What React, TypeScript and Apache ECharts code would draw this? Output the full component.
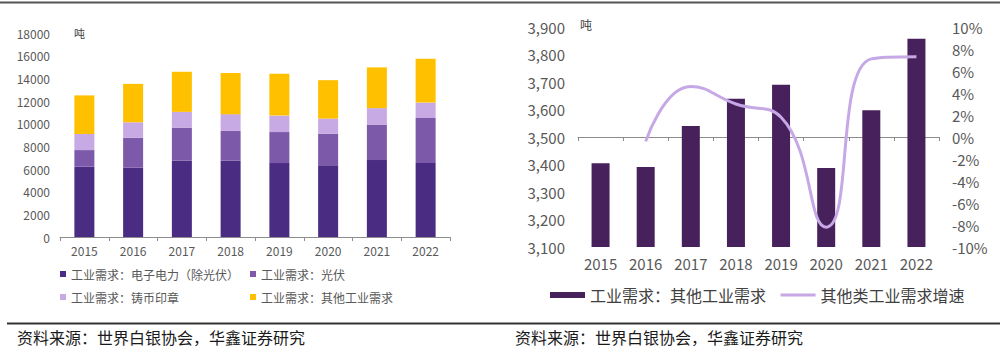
import React, { useEffect, useRef } from "react";
import * as echarts from "echarts";

const years = ["2015", "2016", "2017", "2018", "2019", "2020", "2021", "2022"];
// Left chart: stacked industrial demand (tonnes)
const electronics = [6200, 6110, 6730, 6730, 6520, 6320, 6790, 6520];
const photovoltaic = [1470, 2650, 2920, 2630, 2740, 2800, 3130, 3980];
const coins = [1420, 1360, 1390, 1480, 1450, 1330, 1450, 1360];
const otherIndustrial = [3405, 3391, 3540, 3639, 3690, 3387, 3597, 3857];
// Right chart: growth of other industrial demand (%)
const otherGrowth = [null, -0.4, 4.6, 3.0, 1.8, -8.2, 7.1, 7.3];

const leftNames = [
  "工业需求：电子电力（除光伏）",
  "工业需求：光伏",
  "工业需求：铸币印章",
  "工业需求：其他工业需求",
];
const rightBarName = "工业需求：其他工业需求 ";
const rightLineName = "其他类工业需求增速";
const sourceText = "资料来源：世界白银协会，华鑫证券研究";

const FONT = "'Noto Sans CJK SC', 'Noto Sans', sans-serif";

export default function App() {
  const ref = useRef<HTMLDivElement>(null);
  useEffect(() => {
    if (!ref.current) return;
    const chart = echarts.init(ref.current, undefined, { renderer: "svg" });
    const leftColors = ["#4b2c83", "#7d5aa9", "#c7a9e3", "#ffc000"];
    const leftData = [electronics, photovoltaic, coins, otherIndustrial];
    const legendPos = [
      { left: 60, top: 268 },
      { left: 250, top: 268 },
      { left: 60, top: 291 },
      { left: 250, top: 291 },
    ];
    const option: any = {
      animation: false,
      textStyle: { fontFamily: FONT },
      grid: [
        { left: 60, right: 550, top: 33, bottom: 113 },
        { left: 578, right: 61, top: 27, bottom: 103 },
      ],
      xAxis: [
        {
          type: "category",
          gridIndex: 0,
          data: years,
          axisLine: { lineStyle: { color: "#8c8c8c" } },
          axisTick: { show: true, length: 4, lineStyle: { color: "#8c8c8c" } },
          axisLabel: { color: "#595959", fontSize: 12, margin: 7, fontFamily: FONT },
        },
        {
          type: "category",
          gridIndex: 1,
          data: years,
          axisLine: { lineStyle: { color: "#8c8c8c" } },
          axisTick: { show: true, length: 4, lineStyle: { color: "#8c8c8c" } },
          axisLabel: { color: "#595959", fontSize: 15, margin: 9, fontFamily: FONT },
        },
      ],
      yAxis: [
        {
          type: "value",
          gridIndex: 0,
          min: 0,
          max: 18000,
          interval: 2000,
          splitLine: { show: false },
          axisLine: { show: false },
          axisTick: { show: false },
          axisLabel: {
            color: "#595959",
            fontSize: 12,
            margin: 10,
            fontFamily: FONT,
            formatter: (v: number) => String(v),
          },
        },
        {
          type: "value",
          gridIndex: 1,
          min: 3100,
          max: 3900,
          interval: 100,
          splitLine: { show: false },
          axisLine: { show: false },
          axisTick: { show: false },
          axisLabel: {
            color: "#595959",
            fontSize: 15,
            margin: 13,
            fontFamily: FONT,
            formatter: (v: number) => v.toLocaleString("en-US"),
          },
        },
        {
          type: "value",
          gridIndex: 1,
          position: "right",
          min: -10,
          max: 10,
          interval: 2,
          splitLine: { show: false },
          axisLine: { show: false },
          axisTick: { show: false },
          axisLabel: {
            color: "#595959",
            fontSize: 15,
            margin: 13,
            fontFamily: FONT,
            formatter: (v: number) => `${v}%`,
          },
        },
      ],
      legend: [
        ...leftNames.map((n, i) => ({
          data: [n],
          left: legendPos[i].left,
          top: legendPos[i].top,
          padding: 0,
          icon: "rect",
          itemWidth: 6,
          itemHeight: 6,
          itemGap: 5,
          textStyle: { color: "#595959", fontSize: 12, fontFamily: FONT },
        })),
        {
          data: [
            { name: rightBarName, icon: "rect" },
            { name: rightLineName, icon: "path://M0,0L35,0L35,3L0,3Z" },
          ],
          left: 550,
          top: 287,
          padding: 0,
          itemWidth: 35,
          itemHeight: 6,
          itemGap: 11,
          textStyle: { color: "#404040", fontSize: 16, fontFamily: FONT },
        },
      ],
      series: [
        ...leftNames.map((n, i) => ({
          name: n,
          type: "bar",
          stack: "left",
          xAxisIndex: 0,
          yAxisIndex: 0,
          barWidth: 20,
          itemStyle: { color: leftColors[i] },
          data: leftData[i],
        })),
        {
          name: rightBarName,
          type: "bar",
          xAxisIndex: 1,
          yAxisIndex: 1,
          barWidth: 18,
          itemStyle: { color: "#47215b" },
          data: otherIndustrial,
        },
        {
          name: rightLineName,
          type: "line",
          xAxisIndex: 1,
          yAxisIndex: 2,
          smooth: 0.5,
          symbol: "none",
          lineStyle: { color: "#c6a8e6", width: 3 },
          itemStyle: { color: "#c6a8e6" },
          data: otherGrowth,
        },
      ],
      graphic: [
        {
          type: "line",
          shape: { x1: 0, y1: 2.5, x2: 1000, y2: 2.5 },
          style: { stroke: "#555555", lineWidth: 2 },
        },
        {
          type: "line",
          shape: { x1: 7, y1: 323.5, x2: 1000, y2: 323.5 },
          style: { stroke: "#333333", lineWidth: 2 },
        },
        {
          type: "text",
          x: 74,
          y: 33,
          style: { text: "吨", fill: "#404040", fontSize: 11, fontFamily: FONT, textVerticalAlign: "middle" },
        },
        {
          type: "text",
          x: 580,
          y: 24,
          style: { text: "吨", fill: "#404040", fontSize: 12, fontFamily: FONT, textVerticalAlign: "middle" },
        },
        {
          type: "text",
          x: 17,
          y: 337,
          style: { text: sourceText, fill: "#1a1a1a", fontSize: 16, fontFamily: FONT, textVerticalAlign: "middle" },
        },
        {
          type: "text",
          x: 515,
          y: 337,
          style: { text: sourceText, fill: "#1a1a1a", fontSize: 16, fontFamily: FONT, textVerticalAlign: "middle" },
        },
      ],
    };
    chart.setOption(option);
    return () => chart.dispose();
  }, []);
  return (
    <div
      ref={ref}
      style={{ position: "fixed", left: 0, top: 0, width: 1000, height: 350, background: "#fff" }}
    />
  );
}
